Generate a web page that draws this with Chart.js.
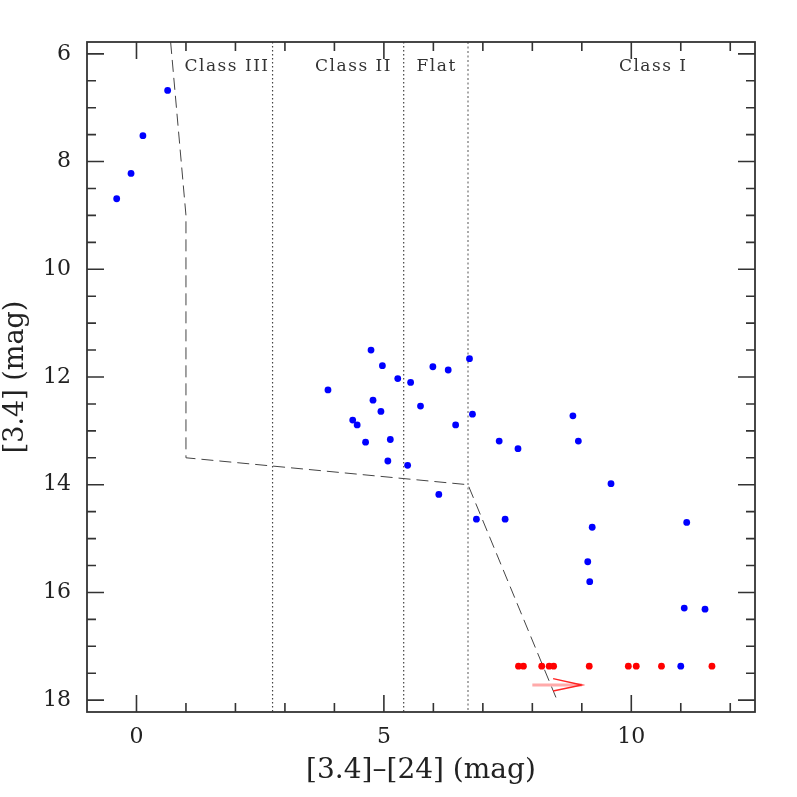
<!DOCTYPE html>
<html>
<head>
<meta charset="utf-8">
<script src="https://cdn.jsdelivr.net/npm/chart.js@4/dist/chart.umd.min.js"></script>
<style>
  html, body { margin: 0; padding: 0; background: #fff; }
</style>
</head>
<body>
<canvas id="c" width="797" height="797"></canvas>
<script>
// detected sources, [3.4]-[24] colour vs [3.4] magnitude
const blueX = [0.63, 0.13, -0.11, -0.40,
  4.74, 4.97, 5.28, 3.87, 4.78, 4.94, 4.37, 4.46, 4.63, 5.13, 5.08,
  5.54, 5.99, 6.30, 6.73, 5.74, 6.79, 6.45, 7.33, 7.71, 8.82, 8.93, 5.48,
  9.59, 6.11, 6.87, 7.45, 9.21, 11.12, 9.12, 9.16, 11.07, 11.49, 11.00]
const blueY = [6.68, 7.52, 8.22, 8.69,
  11.50, 11.79, 12.03, 12.24, 12.43, 12.64, 12.80, 12.89, 13.21, 13.16, 13.56,
  12.10, 11.81, 11.87, 11.66, 12.54, 12.69, 12.89, 13.19, 13.33, 12.72, 13.19, 13.64,
  13.98, 14.18, 14.64, 14.64, 14.79, 14.70, 15.43, 15.80, 16.29, 16.31, 17.37]

// lower limits
const redX = [7.72, 7.82, 8.19, 8.34, 8.43, 9.15, 9.94, 10.10, 10.61, 11.63]
const redY = [17.37, 17.37, 17.37, 17.37, 17.37, 17.37, 17.37, 17.37, 17.37, 17.37]

// dashed selection boundary
const boundX = [0.69, 1.0, 1.0, 6.7, 8.5]
const boundY = [5.78, 9.0, 13.5, 14.0, 18.0]

// class limits
const classLimits = [2.75, 5.4, 6.7]
const classLabels = ['Class III', 'Class II', 'Flat', 'Class I']
const classLabelX = [0.97, 3.61, 5.66, 9.75]
const classLabelY = 6.31

// arrow
const arrowShaftX = [8.0, 9.0]
const arrowShaftY = [17.72, 17.72]
const arrowHeadX = [8.42, 9.0, 8.42]
const arrowHeadY = [17.60, 17.72, 17.83]

const xMin = -1, xMax = 12.5
const yMin = 5.78, yMax = 18.22
const xTicks = [0, 5, 10]
const yTicks = [6, 8, 10, 12, 14, 16, 18]

const pts = (xs, ys) => xs.map((v, i) => ({x: v, y: ys[i]}))

const serif = '"DejaVu Serif", "Liberation Serif", serif'

const limitSets = classLimits.map((v, i) => ({
  type: 'line',
  data: [{x: v, y: yMin}, {x: v, y: yMax}],
  borderColor: i === 2 ? '#aaa' : '#444',
  borderWidth: i === 2 ? 2 : 1.2,
  borderDash: i === 2 ? [2, 2.5] : [1.5, 2.5],
  pointRadius: 0,
  fill: false,
}))

const framePlugin = {
  id: 'frame',
  afterDatasetsDraw(chart) {
    const {ctx, chartArea: a} = chart
    const x = chart.scales.x, y = chart.scales.y
    ctx.save()
    ctx.strokeStyle = '#333'
    ctx.lineWidth = 1.6
    ctx.beginPath()
    for (let v = 0; v <= 12; v++) {
      const px = x.getPixelForValue(v)
      const len = v % 5 === 0 ? 17 : 9
      ctx.moveTo(px, a.bottom); ctx.lineTo(px, a.bottom - len)
      ctx.moveTo(px, a.top); ctx.lineTo(px, a.top + len)
    }
    for (let v = 6; v <= 18; v += 0.5) {
      const py = y.getPixelForValue(v)
      const len = v % 2 === 0 ? 17 : 9
      ctx.moveTo(a.left, py); ctx.lineTo(a.left + len, py)
      ctx.moveTo(a.right, py); ctx.lineTo(a.right - len, py)
    }
    ctx.stroke()
    ctx.lineWidth = 1.8
    ctx.strokeRect(a.left, a.top, a.right - a.left, a.bottom - a.top)

    ctx.font = '17px ' + serif
    ctx.letterSpacing = '1.5px'
    ctx.fillStyle = '#333'
    ctx.textBaseline = 'alphabetic'
    ctx.textAlign = 'left'
    classLabels.forEach((t, i) => {
      ctx.fillText(t, x.getPixelForValue(classLabelX[i]), y.getPixelForValue(classLabelY))
    })
    ctx.restore()
  }
}

new Chart(document.getElementById('c'), {
  type: 'scatter',
  data: {
    datasets: [
      {
        data: pts(blueX, blueY),
        backgroundColor: '#0000ff',
        borderWidth: 0,
        pointRadius: 3.4,
      },
      {
        data: pts(redX, redY),
        backgroundColor: '#ff0000',
        borderWidth: 0,
        pointRadius: 3.4,
      },
      {
        type: 'line',
        data: pts(arrowHeadX, arrowHeadY),
        borderColor: '#ff2222',
        borderWidth: 1.5,
        pointRadius: 0,
        fill: false,
      },
      {
        type: 'line',
        data: pts(arrowShaftX, arrowShaftY),
        borderColor: '#ffaaaa',
        borderWidth: 3,
        pointRadius: 0,
        fill: false,
      },
      {
        type: 'line',
        data: pts(boundX, boundY),
        borderColor: '#444',
        borderWidth: 1,
        borderDash: [12, 6],
        pointRadius: 0,
        fill: false,
      },
      ...limitSets,
    ]
  },
  options: {
    responsive: false,
    animation: false,
    events: [],
    layout: {
      padding: {top: 42, right: 42, left: 0, bottom: 0},
    },
    plugins: {
      legend: {display: false},
      tooltip: {enabled: false},
    },
    scales: {
      x: {
        type: 'linear',
        min: xMin,
        max: xMax,
        afterBuildTicks: (s) => { s.ticks = xTicks.map(v => ({value: v})) },
        afterFit: (s) => { s.height = 85 },
        grid: {display: false, drawTicks: false},
        border: {display: false},
        ticks: {
          padding: 12,
          color: '#222',
          font: {family: serif, size: 22},
          callback: (v) => String(v),
        },
        title: {
          display: true,
          text: '[3.4]\u2013[24] (mag)',
          color: '#222',
          font: {family: serif, size: 28},
          padding: {top: 9, bottom: 9},
        },
      },
      y: {
        type: 'linear',
        reverse: true,
        min: yMin,
        max: yMax,
        afterBuildTicks: (s) => { s.ticks = yTicks.map(v => ({value: v})) },
        afterFit: (s) => { s.width = 87 },
        grid: {display: false, drawTicks: false},
        border: {display: false},
        ticks: {
          padding: 16,
          color: '#222',
          font: {family: serif, size: 22},
          callback: (v) => String(v),
        },
        title: {
          display: true,
          text: '[3.4] (mag)',
          color: '#222',
          font: {family: serif, size: 27},
          padding: {top: 0, bottom: 0},
        },
      },
    },
  },
  plugins: [framePlugin],
})
</script>
</body>
</html>
